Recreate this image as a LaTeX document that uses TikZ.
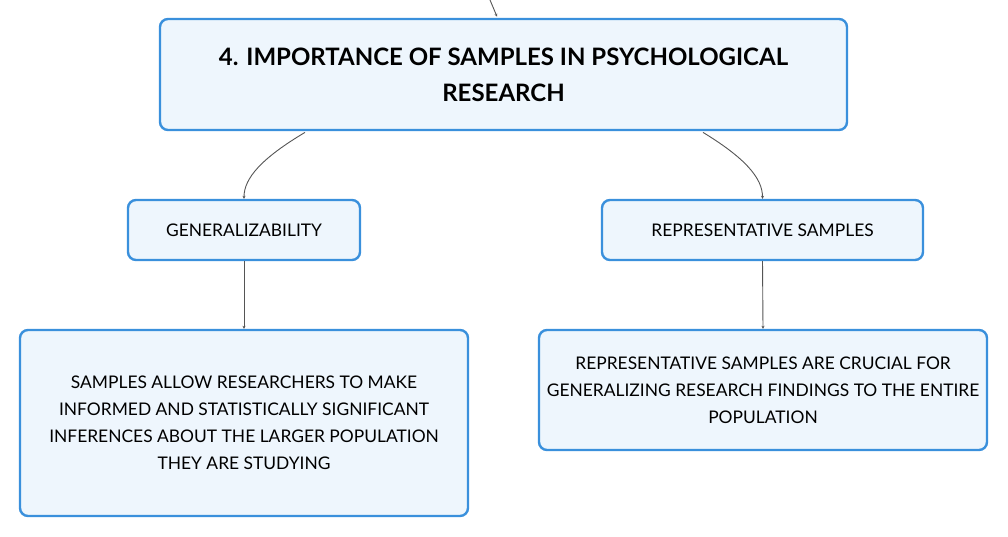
\documentclass[tikz,border=0pt]{standalone}
\usepackage{fontspec}
\setmainfont{Lato}
\usetikzlibrary{calc,arrows.meta}
\definecolor{boxborder}{HTML}{3A90DC}
\definecolor{boxfill}{HTML}{EEF6FD}
\definecolor{linkgray}{HTML}{555555}
\begin{document}
\begin{tikzpicture}[x=1pt,y=-1pt,
  box/.style={draw=boxborder,line width=2.4pt,fill=boxfill,rounded corners=8pt,
    inner sep=0pt,align=center,text=black},
  link/.style={draw=linkgray,line width=0.9pt,-{Stealth[length=3pt,width=3pt]}},
  bodytext/.style={font=\fontsize{17.4}{27}\selectfont}]
\useasboundingbox (0,0) rectangle (1008,537);
\node[box,minimum width=687pt,minimum height=111pt,
  font=\fontsize{24}{36}\selectfont\bfseries] (main) at (503.5,74.5)
  {4. IMPORTANCE OF SAMPLES IN PSYCHOLOGICAL\\RESEARCH};
\node[box,bodytext,minimum width=232pt,minimum height=60pt] (gen) at (244,230)
  {GENERALIZABILITY};
\node[box,bodytext,minimum width=321pt,minimum height=60pt] (rep) at (762.5,230)
  {REPRESENTATIVE SAMPLES};
\node[box,bodytext,minimum width=448pt,minimum height=186pt] (gtext) at (244,423)
  {SAMPLES ALLOW RESEARCHERS TO MAKE\\INFORMED AND STATISTICALLY SIGNIFICANT\\INFERENCES ABOUT THE LARGER POPULATION\\THEY ARE STUDYING};
\node[box,bodytext,minimum width=448pt,minimum height=120pt] (rtext) at (763,390)
  {REPRESENTATIVE SAMPLES ARE CRUCIAL FOR\\GENERALIZING RESEARCH FINDINGS TO THE ENTIRE\\POPULATION};
\coordinate (top) at (490,0);
\draw[link] (top) -- ($(main.north)+(-6.5,-1.2)$);
\draw[link] ($(main.south)+(-198.5,1.2)$) .. controls (262,158) and (244,178) .. (gen.north);
\draw[link] ($(main.south)+(199.5,1.2)$) .. controls (745,158) and (762.5,178) .. (rep.north);
\draw[link] (gen.south) -- (gtext.north);
\draw[link] (rep.south) -- (rtext.north);
\end{tikzpicture}
\end{document}
